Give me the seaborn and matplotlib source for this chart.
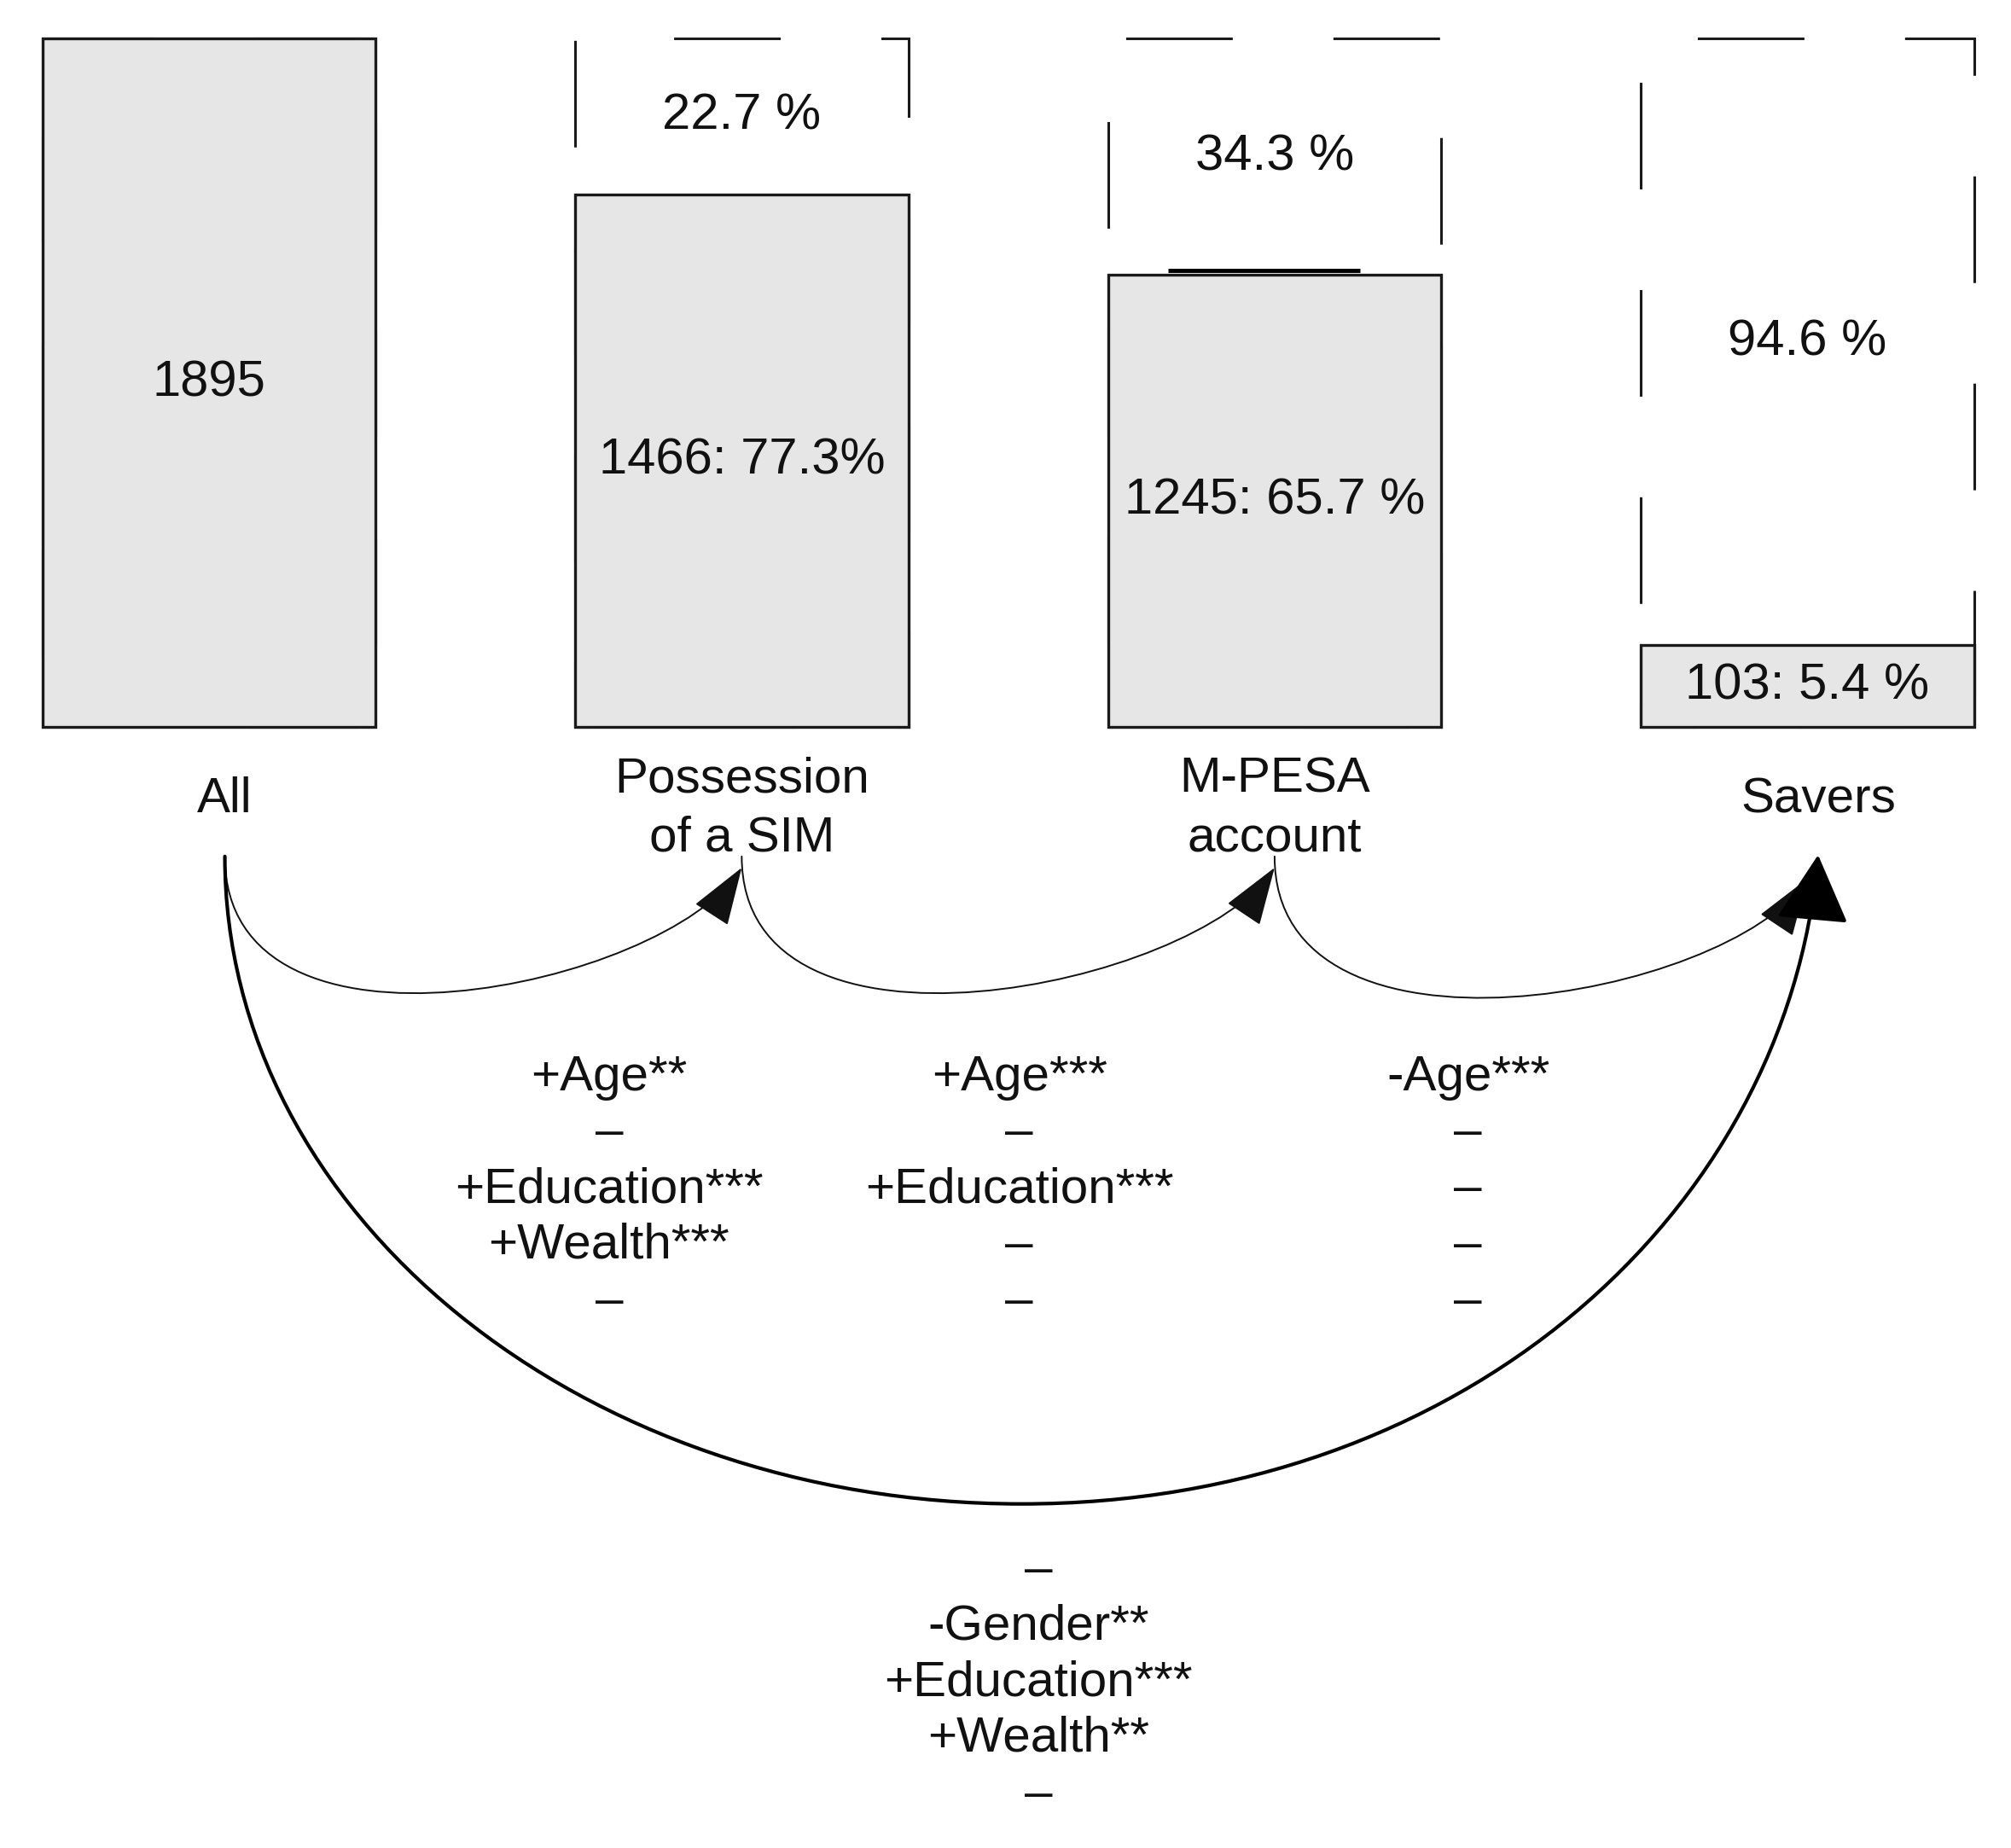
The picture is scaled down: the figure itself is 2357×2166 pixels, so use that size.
import matplotlib
matplotlib.use('Agg')
import matplotlib.pyplot as plt
from matplotlib.path import Path
from matplotlib.patches import FancyArrowPatch
import seaborn as sns

# data
stages = ['All', 'Possession\nof a SIM', 'M-PESA\naccount', 'Savers']
counts = [1895, 1466, 1245, 103]
bar_labels = ['1895', '1466: 77.3%', '1245: 65.7 %', '103: 5.4 %']
dropout_labels = ['', '22.7 %', '34.3 %', '94.6 %']
step_effects = [
    ['+Age**', '–', '+Education***', '+Wealth***', '–'],
    ['+Age***', '–', '+Education***', '–', '–'],
    ['-Age***', '–', '–', '–', '–'],
]
total_effects = ['–', '-Gender**', '+Education***', '+Wealth**', '–']

total = counts[0]
min_height = 225  # savers box is drawn taller than its share so the label fits
shown = [max(c, min_height) for c in counts]

sns.set_theme(style='white')
plt.rcParams['font.family'] = ['Liberation Sans', 'DejaVu Sans']

fig = plt.figure(figsize=(23.57, 21.66), dpi=100)
ax = fig.add_axes([0, 0, 1, 1])

# dashed outline: whole sample, the part lost at each step
sns.barplot(x=stages, y=[total] * len(stages), order=stages, width=0.625,
            fill=False, color='black', linewidth=2.2, errorbar=None,
            ax=ax, zorder=1)
dash_offsets = [0, 35.7, 5.2, 19.6]
for patch, off in zip(ax.containers[0], dash_offsets):
    patch.set_linestyle((off, (40.9, 38.6)))
    patch.set_edgecolor('#1a1a1a')

# solid boxes: those who remain
sns.barplot(x=stages, y=shown, order=stages, width=0.625, color='#e6e6e6',
            saturation=1, edgecolor='#1a1a1a', linewidth=2.4, errorbar=None,
            ax=ax, zorder=2)
ax.bar_label(ax.containers[-1], labels=bar_labels, label_type='center',
             fontsize=43, color='#111111')
for i in range(1, len(stages)):
    ax.text(i, (shown[i] + total) / 2, dropout_labels[i], ha='center',
            va='center', fontsize=43, color='#111111')
ax.hlines(counts[2] + 12, 1.80, 2.16, color='black', lw=3.5, zorder=3)

# stage names
label_x = [0.03, 1.0, 2.0, 3.02]
for x, s in zip(label_x, stages):
    ax.text(x, -200 - 25 * s.count('\n'), s, ha='center', va='center',
            fontsize=42, linespacing=1.38, color='#111111')

# step arrows
y_start = -356
arrow_ends = [(1.0, -387), (2.0, -387), (3.0, -417)]
x0 = label_x[0]
for x1, y1 in arrow_ends:
    verts = [(x0, y_start), (x0, y_start - 618),
             (x0 + 0.85 * (x1 - x0), y1 - 330), (x1, y1)]
    path = Path(verts, [Path.MOVETO, Path.CURVE4, Path.CURVE4, Path.CURVE4])
    ax.add_patch(FancyArrowPatch(path=path,
                                 arrowstyle='-|>,head_length=4.4,head_width=1.5',
                                 mutation_scale=10, lw=1.4, color='#111111',
                                 zorder=3))
    x0 = x1

# overall arrow All -> Savers
xl, xr = label_x[0], label_x[3]
xc, rx = (xl + xr) / 2, (xr - xl) / 2
yt, yb = y_start, -2138
k = 0.5523
ry = yt - yb
verts = [(xl, yt), (xl, yt - k * ry), (xc - k * rx, yb), (xc, yb),
         (xc + k * rx, yb), (xr - 0.06, yt - k * ry), (xr, -352)]
codes = [Path.MOVETO] + [Path.CURVE4] * 6
ax.add_patch(FancyArrowPatch(path=Path(verts, codes),
                             arrowstyle='-|>,head_length=5.0,head_width=2.7',
                             mutation_scale=10, lw=3, color='black', zorder=4))

# effect lists
col_x = [0.751, 1.521, 2.363]
row_step = 154.4
for cx, lines in zip(col_x, step_effects):
    for j, line in enumerate(lines):
        ax.text(cx, -964 - j * row_step, line, ha='center', va='center',
                fontsize=42, color='#111111')
for j, line in enumerate(total_effects):
    ax.text(1.557, -2321 - j * row_step, line, ha='center', va='center',
            fontsize=42, color='#111111')

ax.set_xlim(-0.392, 3.382)
ax.set_ylim(-3085, 2001)
ax.axis('off')

fig.savefig('out.png', dpi=100, facecolor='white')
